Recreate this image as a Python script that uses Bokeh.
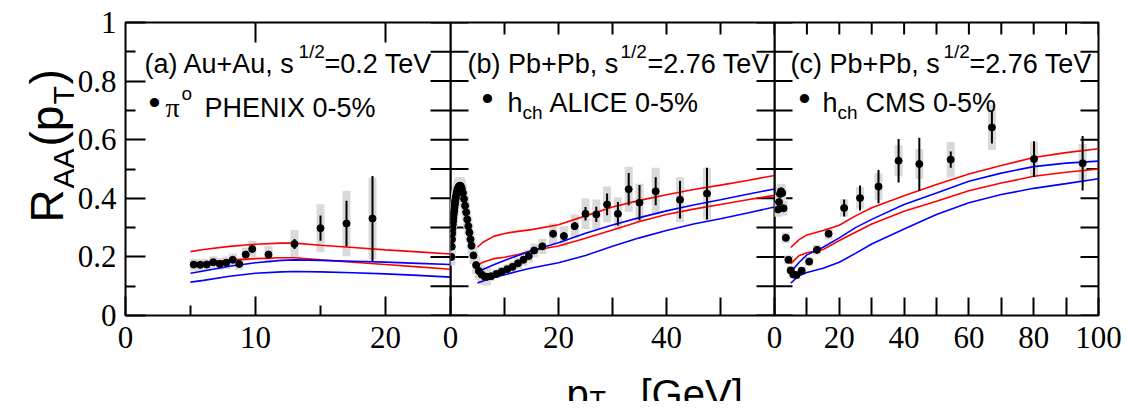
import math
from bokeh.plotting import figure
from bokeh.models import FixedTicker, LinearAxis, Range1d, Label
from bokeh.layouts import row, column
from bokeh.embed import file_html
from bokeh.resources import INLINE

# ---------------- data ----------------
y_ticks = [0, 0.2, 0.4, 0.6, 0.8, 1.0]
y_tick_labels = ["0", "0.2", "0.4", "0.6", "0.8", "1"]
y_minor = [0.1, 0.3, 0.5, 0.7, 0.9]

a_x_ticks = [0, 10, 20, 25]
a_x_labels = ["0", "10", "20", "0"]
a_x_minor = [5, 15]
a_top_ticks = [10, 20]
b_x_ticks = [20, 40, 60]
b_x_labels = ["20", "40", "0"]
b_x_minor = [10, 30, 50]
c_x_ticks = [20, 40, 60, 80, 100]
c_x_labels = ["20", "40", "60", "80", "100"]
c_x_minor = [10, 30, 50, 70, 90]

# (a) PHENIX pi0, Au+Au 0.2 TeV
phenix_pt = [5.25, 5.75, 6.25, 6.75, 7.25, 7.75, 8.25, 8.75, 9.25, 9.75, 11, 13, 15, 17, 19]
phenix_raa = [0.174, 0.173, 0.174, 0.182, 0.176, 0.18, 0.19, 0.176, 0.208, 0.227, 0.208, 0.244, 0.298, 0.314, 0.331]
phenix_stat = [0.005, 0.005, 0.005, 0.005, 0.005, 0.006, 0.006, 0.007, 0.008, 0.01, 0.012, 0.017, 0.043, 0.078, 0.145]
phenix_sys = [0.02, 0.02, 0.02, 0.02, 0.02, 0.021, 0.022, 0.02, 0.024, 0.028, 0.028, 0.048, 0.082, 0.112, 0.14]

a_curve_pt = [5, 6, 8, 10, 12, 13, 15, 17.5, 20, 22.5, 25]
a_red_up = [0.218, 0.225, 0.236, 0.243, 0.247, 0.247, 0.24, 0.232, 0.224, 0.217, 0.21]
a_red_lo = [0.176, 0.181, 0.189, 0.194, 0.197, 0.197, 0.19, 0.182, 0.174, 0.166, 0.158]
a_blue_up = [0.144, 0.152, 0.168, 0.18, 0.188, 0.19, 0.188, 0.185, 0.182, 0.178, 0.174]
a_blue_lo = [0.114, 0.12, 0.134, 0.144, 0.149, 0.15, 0.149, 0.146, 0.142, 0.137, 0.131]

# (b) ALICE h_ch, Pb+Pb 2.76 TeV
alice_pt = [0.175, 0.225, 0.275, 0.325, 0.375, 0.425, 0.475, 0.525, 0.575, 0.625, 0.675, 0.725,
            0.775, 0.825, 0.875, 0.925, 0.975,
            1.05, 1.15, 1.25, 1.35, 1.45, 1.55, 1.65, 1.75, 1.85, 1.95,
            2.1, 2.3, 2.5, 2.7, 2.9, 3.1, 3.3, 3.5, 3.7, 3.9,
            4.25, 4.75, 5.25, 5.75, 6.25, 6.75,
            7.5, 8.5, 9.5, 10.5, 11.5, 12.5, 13.5, 14.5, 15.5,
            17, 19, 21, 23, 25, 27, 29, 31, 33, 35,
            38, 42.5, 47.5]
alice_raa = [0.2, 0.235, 0.26, 0.28, 0.297, 0.31, 0.322, 0.333, 0.343, 0.352, 0.36, 0.368,
             0.376, 0.383, 0.39, 0.396, 0.402,
             0.41, 0.42, 0.427, 0.433, 0.437, 0.44, 0.442, 0.443, 0.442, 0.44,
             0.432, 0.418, 0.398, 0.375, 0.352, 0.328, 0.305, 0.283, 0.26, 0.238,
             0.205, 0.172, 0.152, 0.14, 0.134, 0.132,
             0.134, 0.142, 0.15, 0.158, 0.166, 0.178, 0.19, 0.203, 0.222,
             0.236, 0.279, 0.271, 0.305, 0.347, 0.345, 0.379, 0.347, 0.431, 0.385,
             0.424, 0.395, 0.416]
alice_stat = [0.003] * 43 + [0.004, 0.004, 0.005, 0.005, 0.006, 0.006, 0.007, 0.008, 0.009,
                             0.01, 0.012, 0.013, 0.013, 0.023, 0.026, 0.037, 0.04, 0.055, 0.06,
                             0.048, 0.064, 0.088]
alice_sys = [0.03] * 43 + [0.015, 0.015, 0.016, 0.017, 0.018, 0.019, 0.02, 0.022, 0.024,
                           0.026, 0.035, 0.034, 0.04, 0.052, 0.051, 0.061, 0.057, 0.077, 0.065,
                           0.08, 0.077, 0.088]

b_curve_pt = [5, 6, 8, 10, 12.5, 15, 20, 25, 30, 35, 40, 45, 50, 55, 60]
b_red_up = [0.233, 0.25, 0.27, 0.28, 0.287, 0.293, 0.31, 0.34, 0.37, 0.393, 0.412, 0.43, 0.445, 0.461, 0.478]
b_red_lo = [0.171, 0.182, 0.194, 0.199, 0.208, 0.221, 0.237, 0.264, 0.292, 0.321, 0.345, 0.363, 0.379, 0.395, 0.41]
b_blue_up = [0.148, 0.157, 0.173, 0.188, 0.205, 0.221, 0.248, 0.281, 0.309, 0.334, 0.357, 0.377, 0.395, 0.414, 0.432]
b_blue_lo = [0.111, 0.118, 0.13, 0.139, 0.151, 0.162, 0.18, 0.205, 0.236, 0.265, 0.29, 0.312, 0.33, 0.35, 0.37]

# (c) CMS h_ch, Pb+Pb 2.76 TeV
cms_pt = [1.1, 1.4, 1.7, 2.0, 2.4, 2.8, 3.5, 4.3, 5.0, 5.8, 6.8, 8.4, 10.7, 13.1, 16.7,
          21.5, 26.4, 32.1, 38.3, 44.7, 54.4, 67.1, 80.1, 95.1]
cms_raa = [0.362, 0.387, 0.415, 0.424, 0.418, 0.366, 0.265, 0.19, 0.154, 0.14, 0.138, 0.153, 0.184, 0.224, 0.279,
           0.367, 0.401, 0.44, 0.528, 0.517, 0.532, 0.642, 0.534, 0.52]
cms_stat = [0.004, 0.004, 0.004, 0.004, 0.004, 0.004, 0.005, 0.005, 0.005, 0.005, 0.005, 0.006, 0.006, 0.007, 0.008,
            0.029, 0.043, 0.057, 0.074, 0.09, 0.028, 0.055, 0.061, 0.093]
cms_sys = [0.025, 0.025, 0.025, 0.025, 0.025, 0.025, 0.018, 0.015, 0.013, 0.013, 0.013, 0.013, 0.015, 0.017, 0.02,
           0.03, 0.037, 0.045, 0.053, 0.051, 0.06, 0.077, 0.06, 0.065]

c_curve_pt = [5, 7.5, 10, 15, 20, 25, 30, 40, 50, 60, 70, 80, 90, 100]
c_red_up = [0.232, 0.258, 0.275, 0.29, 0.308, 0.34, 0.368, 0.409, 0.447, 0.483, 0.512, 0.539, 0.556, 0.569]
c_red_lo = [0.176, 0.204, 0.214, 0.225, 0.256, 0.284, 0.312, 0.356, 0.39, 0.426, 0.452, 0.475, 0.489, 0.5]
c_blue_up = [0.148, 0.18, 0.207, 0.233, 0.265, 0.3, 0.328, 0.379, 0.418, 0.458, 0.486, 0.508, 0.52, 0.527]
c_blue_lo = [0.11, 0.136, 0.147, 0.161, 0.182, 0.212, 0.244, 0.295, 0.345, 0.385, 0.413, 0.434, 0.45, 0.467]

# ---------------- style / layout ----------------
RED = "#ff0000"
BLUE = "#0000ff"
GRAY = "#d9d9d9"
SANS = "Liberation Sans"
SERIF = "Liberation Serif"
PAGE_H = 415
YTITLE_W = 74
TOP = 22
FRAME_H = 293
BOTTOM = 48
FRAME_BOTTOM = TOP + FRAME_H          # page y of the panels' frame bottom
PANEL_H_ACTUAL = 377                  # rendered panel height (axis needs a little more than BOTTOM)
OVERLAP = 12
y_all = sorted(y_ticks + y_minor)


def style_axis(ax, ticks, minor, major_len, minor_len, labels, standoff):
    ax.ticker = FixedTicker(ticks=ticks, minor_ticks=minor)
    ax.major_tick_in = major_len
    ax.major_tick_out = 0
    ax.minor_tick_in = minor_len
    ax.minor_tick_out = 0
    ax.major_tick_line_width = 2
    ax.minor_tick_line_width = 2
    ax.major_tick_line_color = "black"
    ax.minor_tick_line_color = "black"
    ax.axis_line_color = None
    ax.axis_label_standoff = 0
    ax.major_label_overrides = {t: l for t, l in zip(ticks, labels)}
    ax.major_label_text_font = SERIF
    ax.major_label_text_font_size = "31px"
    ax.major_label_text_color = "black"
    ax.major_label_standoff = standoff


def tick_rays(p, xs, ys, length, angle):
    p.ray(x=xs, y=ys, length=length, length_units="screen", angle=angle,
          line_color="black", line_width=2)


def make_panel(xmax, fw, xt, xl, xm, left_border, right_border, margin_left, first):
    p = figure(x_range=Range1d(0, xmax), y_range=Range1d(0, 1), title=None,
               frame_width=fw, frame_height=FRAME_H,
               min_border_left=left_border, min_border_right=right_border,
               min_border_top=TOP, min_border_bottom=BOTTOM,
               x_axis_location=None, y_axis_location=None,
               output_backend="svg", toolbar_location=None,
               margin=(0, 0, 0, margin_left))
    p.background_fill_alpha = 0
    p.border_fill_alpha = 0
    p.outline_line_color = "black"
    p.outline_line_width = 2
    p.grid.visible = False
    bottom = LinearAxis()
    if first:
        style_axis(bottom, xt, xm, 19, 10, xl, 11)
        left = LinearAxis()
        style_axis(left, y_ticks, y_minor, 20, 10, y_tick_labels, 9)
        p.add_layout(left, "left")
        tick_rays(p, a_top_ticks, [1] * len(a_top_ticks), 20, -math.pi / 2)
        tick_rays(p, [xmax] * len(y_all), y_all, 20, math.pi)
    else:
        style_axis(bottom, xt, xm, 18, 18, xl, 11)
        tops = sorted(xt + xm)
        tick_rays(p, tops, [1] * len(tops), 12, -math.pi / 2)
        tick_rays(p, [0] * len(y_all), y_all, 18, 0)
        tick_rays(p, [xmax] * len(y_all), y_all, 18, math.pi)
    p.add_layout(bottom, "below")
    return p


def blank(w, h):
    f = figure(frame_width=w, frame_height=h, min_border=0, title=None,
               x_axis_location=None, y_axis_location=None,
               output_backend="svg", toolbar_location=None)
    f.background_fill_alpha = 0
    f.border_fill_alpha = 0
    f.outline_line_color = None
    f.grid.visible = False
    return f


def draw(p, pt, raa, stat, sys_, cpt, curves):
    p.rect(x=pt, y=raa, width=8, width_units="screen",
           height=[2 * s for s in sys_], fill_color=GRAY, line_color=None)
    for ys, col in curves:
        p.line(cpt, ys, line_color=col, line_width=1.6)
    p.segment(x0=pt, y0=[y - e for y, e in zip(raa, stat)],
              x1=pt, y1=[y + e for y, e in zip(raa, stat)],
              line_color="black", line_width=2)
    p.scatter(pt, raa, size=7, fill_color="black", line_color="black")


def add_text(p, frame_left, frame_bottom, items, angle=0.0):
    # label positions given in page pixels, converted to frame-relative screen units
    for txt, px, py, size, font, align, base in items:
        p.add_layout(Label(x=px - frame_left, y=frame_bottom - py,
                           x_units="screen", y_units="screen", text=txt, angle=angle,
                           text_font=font, text_font_size=f"{size}px",
                           text_align=align, text_baseline=base, text_color="black"))


pa = make_panel(25, 325, a_x_ticks, a_x_labels, a_x_minor, 123 - YTITLE_W, OVERLAP, 0, True)
pb = make_panel(60, 324, b_x_ticks, b_x_labels, b_x_minor, 0, OVERLAP, -OVERLAP, False)
pc = make_panel(100, 324, c_x_ticks, c_x_labels, c_x_minor, 0, 26, -OVERLAP, False)

draw(pa, phenix_pt, phenix_raa, phenix_stat, phenix_sys, a_curve_pt,
     [(a_red_up, RED), (a_red_lo, RED), (a_blue_up, BLUE), (a_blue_lo, BLUE)])
draw(pb, alice_pt, alice_raa, alice_stat, alice_sys, b_curve_pt,
     [(b_red_up, RED), (b_red_lo, RED), (b_blue_up, BLUE), (b_blue_lo, BLUE)])
draw(pc, cms_pt, cms_raa, cms_stat, cms_sys, c_curve_pt,
     [(c_red_up, RED), (c_red_lo, RED), (c_blue_up, BLUE), (c_blue_lo, BLUE)])

L, M = "left", "middle"
A = "alphabetic"
add_text(pa, 123, FRAME_BOTTOM, [
    ("(a) Au+Au, s", 142, 63, 27, SANS, L, A),
    ("1/2", 296, 51, 19, SANS, L, A),
    ("=0.2 TeV", 322, 63, 27, SANS, L, A),
    ("\u2022", 152, 101, 34, SANS, "center", M),
    ("\u03c0", 163, 107, 28, SERIF, L, A),
    ("o", 179, 93, 19, SANS, L, A),
    ("PHENIX 0-5%", 202, 107, 27, SANS, L, A),
])
add_text(pb, 448, FRAME_BOTTOM, [
    ("(b) Pb+Pb, s", 465, 63, 27, SANS, L, A),
    ("1/2", 618, 51, 19, SANS, L, A),
    ("=2.76 TeV", 645, 63, 27, SANS, L, A),
    ("\u2022", 485, 97, 34, SANS, "center", M),
    ("h", 505, 102, 27, SANS, L, A),
    ("ch", 520, 112, 19, SANS, L, A),
    ("ALICE 0-5%", 547, 102, 27, SANS, L, A),
])
add_text(pc, 772, FRAME_BOTTOM, [
    ("(c) Pb+Pb, s", 788, 63, 27, SANS, L, A),
    ("1/2", 941, 51, 19, SANS, L, A),
    ("=2.76 TeV", 967, 63, 27, SANS, L, A),
    ("\u2022", 802, 97, 34, SANS, "center", M),
    ("h", 820, 102, 27, SANS, L, A),
    ("ch", 835, 112, 19, SANS, L, A),
    ("CMS 0-5%", 863, 102, 27, SANS, L, A),
])

# y-axis title (rotated) in its own strip left of the panels
fy = blank(YTITLE_W, PAGE_H)
add_text(fy, 0, PAGE_H, [
    ("R", 46, 222, 46, SANS, L, A),
    ("AA", 63, 188, 30, SANS, L, A),
    ("(p", 46, 146, 46, SANS, L, A),
    ("T", 63, 104, 30, SANS, L, A),
    (")", 46, 84, 46, SANS, L, A),
], angle=math.pi / 2)

# x-axis title in its own strip below the panels
XT_H = PAGE_H - PANEL_H_ACTUAL
fx = blank(1040, XT_H)
add_text(fx, YTITLE_W, PAGE_H, [
    ("p", 566, 407, 40, SANS, L, A),
    ("T", 589, 414, 27, SANS, L, A),
    ("[GeV]", 640, 407, 40, SANS, L, A),
])

layout = row(fy, column(row(pa, pb, pc, spacing=0), fx, spacing=0), spacing=0)
open("out.html", "w").write(file_html(layout, INLINE))
